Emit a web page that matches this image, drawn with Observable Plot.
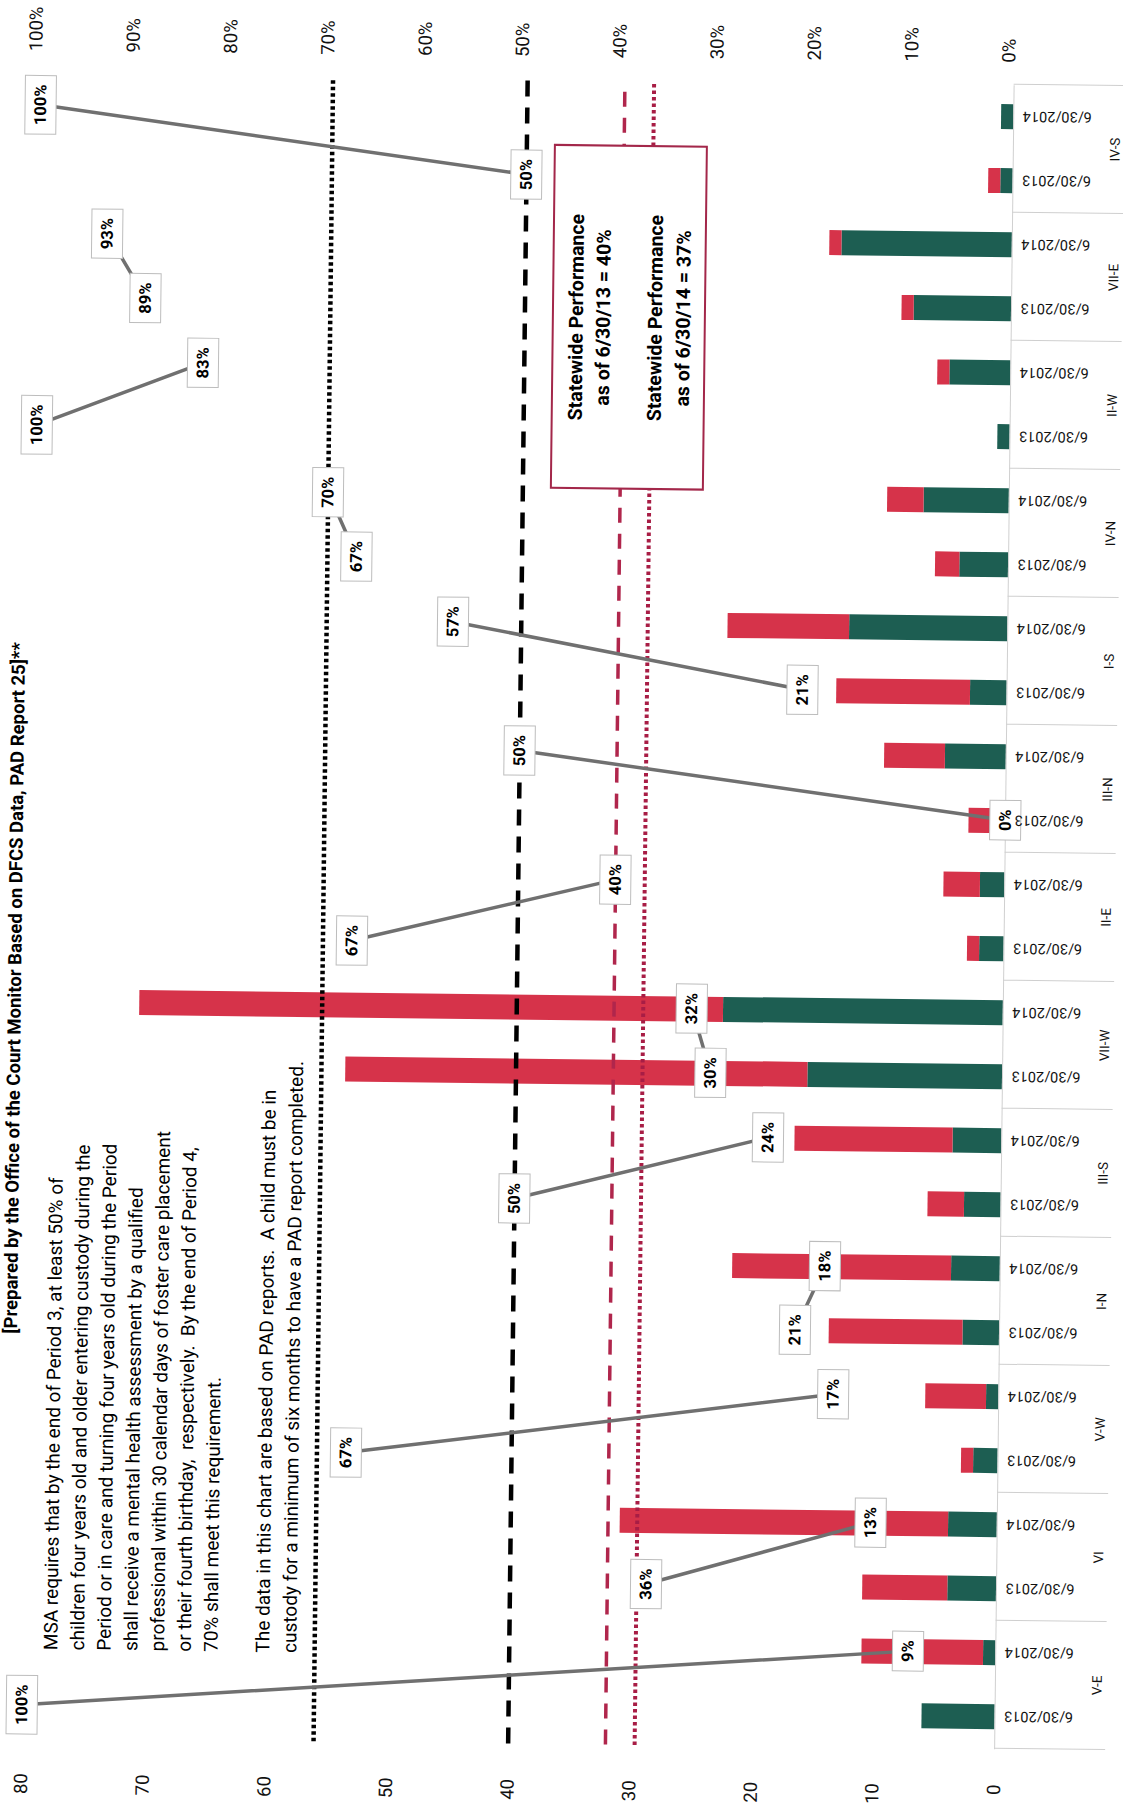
<!DOCTYPE html>
<html>
<head>
<meta charset="utf-8">
<script src="https://cdn.jsdelivr.net/npm/d3@7"></script>
<script src="https://cdn.jsdelivr.net/npm/@observablehq/plot@0.6"></script>
<style>
  html, body { margin: 0; padding: 0; background: #fff; }
  #page { position: relative; width: 1123px; height: 1807px; overflow: hidden; background: #fff; }
  #skew { position: absolute; left: 0; top: 0; width: 1123px; height: 1807px;
          transform-origin: 561px 903px; transform: rotate(0.672deg); }
  #chart { position: absolute; left: 0; top: 0; width: 1807px; height: 1123px;
           transform-origin: 0 0; transform: translate(0px, 1807px) rotate(-90deg); }
  #chart svg { overflow: visible; }
</style>
</head>
<body>
<div id="page"><div id="skew"><div id="chart"></div></div></div>
<script>
// ---------------- data ----------------
const regions = ["V-E", "VI", "V-W", "I-N", "III-S", "VII-W", "II-E", "III-N", "I-S", "IV-N", "II-W", "VII-E", "IV-S"];
const dates = ["6/30/2013", "6/30/2014"];
// children meeting the requirement (green) / not meeting it (red)
const met2013    = [6, 4, 2, 3, 3, 16, 2, 0, 3, 4, 1, 8, 1];
const notMet2013 = [0, 7, 1, 11, 3, 38, 1, 3, 11, 2, 0, 1, 1];
const met2014    = [1, 4, 1, 4, 4, 23, 2, 5, 13, 7, 5, 14, 1];
const notMet2014 = [10, 27, 5, 18, 13, 48, 3, 5, 10, 3, 1, 1, 0];
// percent meeting requirement (data labels)
const pct2013 = [100, 36, 67, 21, 50, 30, 67, 0, 21, 67, 100, 89, 50];
const pct2014 = [9, 13, 17, 18, 24, 32, 40, 50, 57, 70, 83, 93, 100];
const countTicks = [0, 10, 20, 30, 40, 50, 60, 70, 80];
const pctTicks = [0, 10, 20, 30, 40, 50, 60, 70, 80, 90, 100];
const targetPcts = [70, 50];       // Period 4 (dotted) and Period 3 (dashed) requirements
const statewidePcts = [40, 37];    // 6/30/13 (dashed) and 6/30/14 (dotted)
const titleText = "[Prepared by the Office of the Court Monitor Based on DFCS Data, PAD Report 25]**";
const msaLines = [
  "MSA requires that by the end of Period 3, at least 50% of",
  "children four years old and older entering custody during the",
  "Period or in care and turning four years old during the Period",
  "shall receive a mental health assessment by a qualified",
  "professional within 30 calendar days of foster care placement",
  "or their fourth birthday,  respectively.  By the end of Period 4,",
  "70% shall meet this requirement."
];
const noteLines = [
  "The data in this chart are based on PAD reports.  A child must be in",
  "custody for a minimum of six months to have a PAD report completed."
];
const statewideLines = [
  ["Statewide Performance", "as of 6/30/13 = 40%"],
  ["Statewide Performance", "as of 6/30/14 = 37%"]
];

// ---------------- build tables ----------------
const metAll = [met2013, met2014], notAll = [notMet2013, notMet2014], pctAll = [pct2013, pct2014];
const keys = [], bars = [], pts = [];
regions.forEach((r, i) => {
  dates.forEach((d, j) => {
    const key = r + "|" + d;
    keys.push(key);
    bars.push({key, status: "Met", value: metAll[j][i]});
    bars.push({key, status: "Not met", value: notAll[j][i]});
    pts.push({key, region: r, pct: pctAll[j][i]});
  });
});
const toCount = p => p * 0.8;   // secondary axis: 100% aligned with 80

const W = 1807, H = 1123;
const mL = 63, mR = 80, mT = 31, mB = 119;
const step = (W - mL - mR) / keys.length;
const GREEN = "#1d5e52", RED = "#d6334a", MAROON = "#b0264c", DOTRED = "#a81d45";

const chart = Plot.plot({
  width: W, height: H,
  marginLeft: mL, marginRight: mR, marginTop: mT, marginBottom: mB,
  style: {fontFamily: "Roboto, sans-serif", fontSize: "18.5px", color: "#111", background: "transparent"},
  x: {type: "band", domain: keys, paddingInner: 0.61, paddingOuter: 0.305},
  y: {domain: [0, 80]},
  color: {domain: ["Met", "Not met"], range: [GREEN, RED]},
  marks: [
    Plot.barY(bars, {x: "key", y: "value", fill: "status"}),
    Plot.ruleY([0], {stroke: "#d0d0d0", strokeWidth: 1}),
    Plot.ruleX(regions, {x: r => r + "|" + dates[0], y1: 0, y2: 0, insetBottom: -111, dx: -step / 2, stroke: "#cfcfcf", strokeWidth: 1}),
    Plot.ruleX(regions.slice(-1), {x: r => r + "|" + dates[1], y1: 0, y2: 0, insetBottom: -111, dx: step / 2, stroke: "#cfcfcf", strokeWidth: 1}),
    Plot.ruleY(targetPcts.slice(0, 1), {y: toCount, stroke: "#000", strokeWidth: 4.5, strokeDasharray: "3.5,3"}),
    Plot.ruleY(targetPcts.slice(1, 2), {y: toCount, stroke: "#000", strokeWidth: 4.5, strokeDasharray: "16,11"}),
    Plot.ruleY(statewidePcts.slice(0, 1), {y: toCount, stroke: MAROON, strokeWidth: 3.5, strokeDasharray: "15,11"}),
    Plot.ruleY(statewidePcts.slice(1, 2), {y: toCount, stroke: DOTRED, strokeWidth: 4, strokeDasharray: "3.5,3"}),
    Plot.line(pts, {x: "key", y: d => toCount(d.pct), z: "region", stroke: "#707070", strokeWidth: 3.5}),
    Plot.text(pts, {x: "key", y: d => toCount(d.pct), text: d => d.pct + "%", fontWeight: "bold", fontSize: 16.5, fill: "#000",
      ariaLabel: () => "pct-label"}),
    Plot.axisX({tickRotate: -90, tickSize: 0, tickPadding: 9, tickFormat: d => d.split("|")[1], fontSize: 14.5, label: null}),
    Plot.text(regions, {x: r => r + "|" + dates[0], frameAnchor: "bottom", lineAnchor: "middle", dx: step / 2, dy: 102, fontSize: 13.5, fill: "#111", text: d => d}),
    Plot.axisY(countTicks, {anchor: "left", tickSize: 0, tickPadding: 36, label: null, fontSize: 18.5}),
    Plot.axisY(pctTicks.map(toCount), {anchor: "right", tickSize: 0, tickPadding: 22, label: null, fontSize: 18.5, dy: -5,
      tickFormat: d => Math.round(d / 0.8) + "%"})
  ]
});

document.getElementById("chart").appendChild(chart);
const svg = d3.select(chart);

// white boxes behind percent labels
svg.selectAll('text[aria-label="pct-label"]').each(function() {
  const bb = this.getBBox();
  const cy = bb.y + bb.height / 2;
  const rect = document.createElementNS("http://www.w3.org/2000/svg", "rect");
  const tr = this.getAttribute("transform");
  if (tr) rect.setAttribute("transform", tr);
  rect.setAttribute("x", bb.x - 9);
  rect.setAttribute("y", cy - 15.5);
  rect.setAttribute("width", bb.width + 18);
  rect.setAttribute("height", 31);
  rect.setAttribute("fill", "#fff");
  rect.setAttribute("stroke", "#bdbdbd");
  rect.setAttribute("stroke-width", 1);
  this.parentNode.insertBefore(rect, this);
});

// annotations
const ann = svg.append("g").attr("font-family", "Roboto, sans-serif").attr("fill", "#000");

// statewide performance box
ann.append("rect").attr("x", 1319).attr("y", 546).attr("width", 343).attr("height", 152)
  .attr("fill", "#fff").attr("stroke", "#a3274a").attr("stroke-width", 2);
const swBase = [576, 603, 655, 683];
statewideLines.flat().forEach((t, i) => {
  ann.append("text").attr("x", 1490).attr("y", swBase[i]).attr("text-anchor", "middle")
    .attr("font-size", 19.5).attr("font-weight", "bold").text(t);
});

// title (at the page edge)
ann.append("text").attr("x", 467).attr("y", 22).attr("text-anchor", "start")
  .attr("font-size", 18.5).attr("font-weight", "bold").text(titleText);

// MSA text
msaLines.forEach((t, i) => {
  ann.append("text").attr("x", 151).attr("y", 66 + i * 26.7).attr("text-anchor", "start")
    .attr("font-size", 19).style("white-space", "pre").text(t);
});
noteLines.forEach((t, i) => {
  ann.append("text").attr("x", 151).attr("y", 278 + i * 27).attr("text-anchor", "start")
    .attr("font-size", 19).style("white-space", "pre").text(t);
});
</script>
</body>
</html>
